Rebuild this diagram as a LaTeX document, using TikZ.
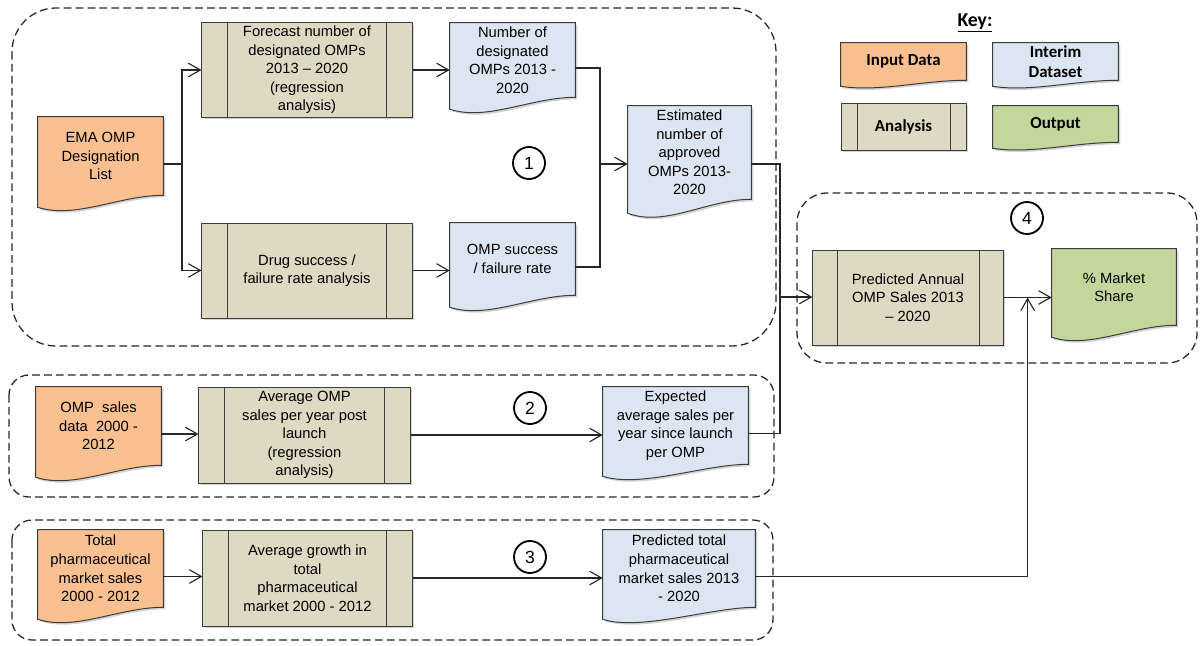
\documentclass[tikz,border=0pt]{standalone}
\usepackage{fontspec}
\setmainfont{Liberation Sans}
\newfontfamily\keyfont{Carlito}
\usetikzlibrary{calc,shadows,arrows.meta,backgrounds}

\definecolor{inp}{RGB}{250, 192, 144}
\definecolor{mid}{RGB}{220, 230, 242}
\definecolor{ana}{RGB}{221, 217, 195}
\definecolor{outp}{RGB}{195, 214, 155}
\definecolor{edge}{RGB}{60, 60, 60}

\begin{document}
\begin{tikzpicture}[x=0.025cm, y=-0.025cm,
  txt/.style={font=\fontsize{10.5}{13.2}\selectfont, align=center, inner sep=0pt},
  keytxt/.style={font=\keyfont\bfseries\fontsize{12}{14.4}\selectfont, align=center, inner sep=0pt},
  shade/.style={drop shadow={shadow xshift=0.05cm, shadow yshift=-0.05cm, opacity=0.35}},
  doc/.style={txt},
  docline/.style={draw=edge, line width=0.7pt, shade},
  proc/.style={txt, draw=edge, fill=ana, line width=0.7pt, shade,
    path picture={
      \draw[edge, line width=0.7pt] ([xshift=#1]path picture bounding box.north west) -- ([xshift=#1]path picture bounding box.south west)
        ([xshift=-#1]path picture bounding box.north east) -- ([xshift=-#1]path picture bounding box.south east);}},
  proc/.default=0.65cm,
  grp/.style={draw=black!85, line width=0.9pt, dash pattern=on 5.5pt off 3pt},
  stage/.style={circle, draw=black, line width=1.3pt, minimum size=0.8cm, inner sep=0pt, font=\fontsize{12.5}{14}\selectfont},
  conn/.style={draw=black!85, line width=1.1pt},
  arr/.style={-{Straight Barb[length=3mm, width=3.4mm, line width=0.8pt]}}]
  \useasboundingbox (0,0) rectangle (1200,645);

  % dashed groups
  \draw[grp, rounded corners=1.1cm] (12,8) rectangle (776,346);
  \draw[grp, rounded corners=0.5cm] (9,375) rectangle (774,497);
  \draw[grp, rounded corners=0.5cm] (12,520) rectangle (773,640);
  \draw[grp, rounded corners=0.75cm] (797,193) rectangle (1197,363);

  % stage 1
  \node[doc, minimum width=3.125cm, minimum height=1.95cm] (ema) at (100.5,156) {EMA OMP\\Designation\\List};
  \node[proc, minimum width=5.25cm, minimum height=2.35cm] (fc) at (307,70) {Forecast number of\\designated OMPs\\2013 – 2020\\(regression\\analysis)};
  \node[proc, minimum width=5.25cm, minimum height=2.375cm] (drug) at (307,270.5) {Drug success /\\failure rate analysis};
  \node[doc, minimum width=3.125cm, minimum height=1.85cm] (num) at (512.5,60) {Number of\\designated\\OMPs 2013 -\\2020};
  \node[doc, minimum width=3.125cm, minimum height=1.8cm] (succ) at (512.5,259) {OMP success\\/ failure rate};
  \node[doc, minimum width=3.075cm, minimum height=2.325cm] (est) at (689.5,152.5) {Estimated\\number of\\approved\\OMPs 2013-\\2020};
  \node[stage] (s1) at (529,163) {1};

  % stage 2
  \node[doc, minimum width=3.125cm, minimum height=1.95cm] (omps) at (98.5,426) {OMP~ sales\\data~ 2000 -\\2012};
  \node[proc, minimum width=5.275cm, minimum height=2.4cm] (avg) at (304.5,435) {Average OMP\\sales per year post\\launch\\(regression\\analysis)};
  \node[doc, minimum width=3.625cm, minimum height=1.925cm] (exp) at (675.5,425.5) {Expected\\average sales per\\year since launch\\per OMP};
  \node[stage] (s2) at (530,408) {2};

  % stage 3
  \node[doc, minimum width=3.125cm, minimum height=1.925cm] (tot) at (100.5,568.5) {Total\\pharmaceutical\\market sales\\2000 - 2012};
  \node[proc, minimum width=5.225cm, minimum height=2.4cm] (grow) at (307.5,578) {Average growth in\\total\\pharmaceutical\\market 2000 - 2012};
  \node[doc, minimum width=3.8cm, minimum height=1.925cm] (predt) at (679,568.5) {Predicted total\\pharmaceutical\\market sales 2013\\- 2020};
  \node[stage] (s3) at (530,557) {3};

  % stage 4
  \node[proc=0.6cm, minimum width=4.75cm, minimum height=2.375cm] (pred) at (908,297.5) {Predicted Annual\\OMP Sales 2013\\– 2020};
  \node[doc, minimum width=3.1cm, minimum height=1.9cm] (share) at (1114,287) {\% Market\\Share};
  \node[stage] (s4) at (1027,218) {4};

  % key
  \node[font=\keyfont\bfseries\fontsize{14}{16}\selectfont, inner sep=0pt] (key) at (975,23) {\underline{Key:}};
  \node[keytxt, minimum width=3.125cm, minimum height=0.925cm] (kin) at (903.5,61.5) {Input Data};
  \node[keytxt, minimum width=3.125cm, minimum height=0.925cm] (kint) at (1055.5,61.5) {Interim\\Dataset};
  \node[proc=0.4cm, keytxt, minimum width=3.125cm, minimum height=1.175cm] (kana) at (903.5,126.5) {Analysis};
  \node[keytxt, minimum width=3.125cm, minimum height=0.9cm] (kout) at (1055.5,124) {Output};

  % document shapes behind the texts
  \begin{scope}[on background layer]
    \foreach \nd/\col/\a in {ema/inp/0.3, num/mid/0.3, succ/mid/0.3, est/mid/0.35, omps/inp/0.3, exp/mid/0.3,
        tot/inp/0.3, predt/mid/0.3, share/outp/0.3, kin/inp/0.15, kint/mid/0.15, kout/outp/0.15}
      \draw[docline, fill=\col] (\nd.north west) -- (\nd.north east) -- (\nd.south east)
        .. controls +(-1.1cm,0cm) and +(0.95cm,-\a cm) .. ([yshift=-\a cm]\nd.south west) -- cycle;
  \end{scope}

  % connectors
  \coordinate (j0) at (182,164);
  \coordinate (j1) at (600,164);
  \coordinate (j2) at (780,297);
  \coordinate (j3) at ($(pred.east)!0.5!(pred.east -| share.west)$);

  \draw[conn] ([yshift=-0.2cm]ema.east) -- (j0);
  \draw[conn, arr] (j0) |- (fc.west);
  \draw[conn, arr] (j0) |- (drug.west);
  \draw[conn, arr] (fc.east) -- (fc.east -| num.west);
  \draw[conn, arr] (drug.east) -- (drug.east -| succ.west);
  \draw[conn] ([yshift=-0.2cm]num.east) -| (j1);
  \draw[conn] ([yshift=-0.2cm]succ.east) -| (j1);
  \draw[conn, arr] (j1) -- (j1 -| est.west);
  \draw[conn] (j1 -| est.east) -| (j2);
  \draw[conn] ([yshift=-0.2cm]exp.east) -| (j2);
  \draw[conn, arr] (j2) -- (j2 -| pred.west);
  \draw[conn, arr] (pred.east) -- (pred.east -| share.west);
  \draw[conn, arr] ([yshift=-0.2cm]predt.east) -| (j3);

  \draw[conn, arr] ([yshift=-0.2cm]omps.east) -- ([yshift=-0.2cm]omps.east -| avg.west);
  \draw[conn, arr] (avg.east) -- (avg.east -| exp.west);
  \draw[conn, arr] ([yshift=-0.2cm]tot.east) -- ([yshift=-0.2cm]tot.east -| grow.west);
  \draw[conn, arr] (grow.east) -- (grow.east -| predt.west);
\end{tikzpicture}
\end{document}
